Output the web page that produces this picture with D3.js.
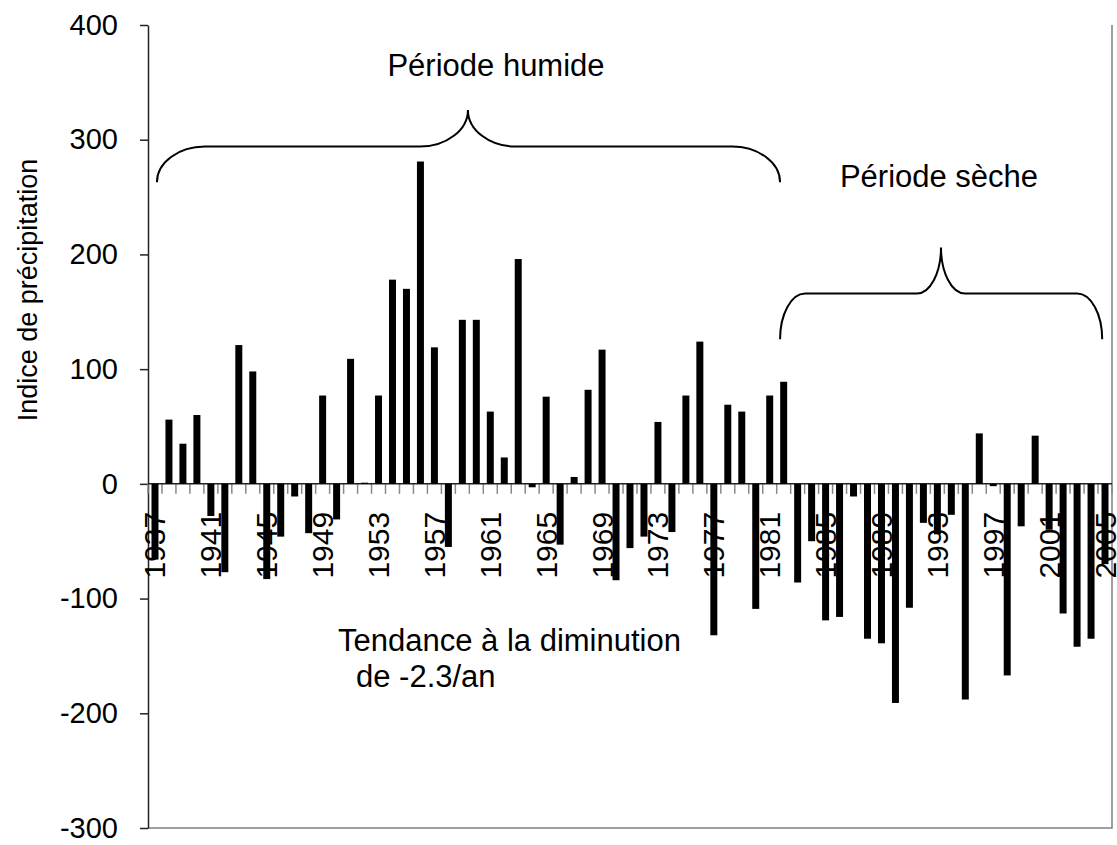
<!DOCTYPE html>
<html>
<head>
<meta charset="utf-8">
<script src="https://cdn.jsdelivr.net/npm/d3@7"></script>
<style>
  body { margin: 0; background: #fff; }
  svg { font-family: Arial, "Liberation Sans", sans-serif; }
</style>
</head>
<body>
<div id="chart"></div>
<script>
/*************************/
/* CONSTANTS AND GLOBALS */
/*************************/
const width = 1117;
const height = 845;
const margin = { top: 25, bottom: 17, left: 148, right: 5 };

/* categories (one bar per year) */
const years = [
  "1937", "1938", "1939", "1940", "1941", "1942", "1943", "1944", "1945", "1946",
  "1947", "1948", "1949", "1950", "1951", "1952", "1953", "1954", "1955", "1956",
  "1957", "1958", "1959", "1960", "1961", "1962", "1963", "1964", "1965", "1966",
  "1967", "1968", "1969", "1970", "1971", "1972", "1973", "1974", "1975", "1976",
  "1977", "1978", "1979", "1980", "1981", "1982", "1983", "1984", "1985", "1986",
  "1987", "1988", "1989", "1990", "1991", "1992", "1993", "1994", "1995", "1996",
  "1997", "1998", "1999", "2000", "2001", "2002", "2003", "2004", "2005"
];

/* indice de précipitation */
const indexValues = [
  -66, 56, 35, 60, -28, -77, 121, 98, -83, -46,
  -11, -43, 77, -31, 109, 1, 77, 178, 170, 281,
  119, -55, 143, 143, 63, 23, 196, -3, 76, -53,
  6, 82, 117, -84, -56, -46, 54, -42, 77, 124,
  -132, 69, 63, -109, 77, 89, -86, -50, -119, -116,
  -11, -135, -139, -191, -108, -34, -44, -27, -188, 44,
  -2, -167, -37, 42, -40, -113, -142, -135, -70
];

/* axis labels */
const yTicks = [-300, -200, -100, 0, 100, 200, 300, 400];
const yearLabels = [
  "1937", "1941", "1945", "1949", "1953", "1957", "1961", "1965", "1969",
  "1973", "1977", "1981", "1985", "1989", "1993", "1997", "2001", "2005"
];

/* texts */
const yTitle = "Indice de précipitation";
const wetLabel = "Période humide";
const dryLabel = "Période sèche";
const trendLines = ["Tendance à la diminution", "de -2.3/an"];

const data = years.map((y, i) => ({ year: y, value: indexValues[i] }));

/****************************/
/* SVG, SCALES AND AXES     */
/****************************/
const svg = d3.select("#chart")
  .append("svg")
  .attr("width", width)
  .attr("height", height);

const xScale = d3.scaleBand()
  .domain(years)
  .range([margin.left, width - margin.right])
  .paddingInner(0.5)
  .paddingOuter(0.25);

const yScale = d3.scaleLinear()
  .domain([-300, 400])
  .range([height - margin.bottom, margin.top]);

const step = xScale.step();
const x0 = margin.left;
const x1 = width - margin.right;
const y0 = yScale(0);

// position along the category axis in "band units" (used for the braces)
const xPos = d3.scaleLinear().domain([0, years.length]).range([x0, x1]);

/* plot area border (right + bottom) */
svg.append("path")
  .attr("d", `M${x0},${yScale(-300)}H${x1}V${margin.top}`)
  .attr("fill", "none")
  .attr("stroke", "#808080")
  .attr("stroke-width", 1.5);

/* y axis */
const yAxis = svg.append("g")
  .attr("transform", `translate(${x0},0)`)
  .call(d3.axisLeft(yScale)
    .tickValues(yTicks)
    .tickFormat(d => String(d))   // plain hyphen, like the original
    .tickSize(8)
    .tickSizeOuter(0)
    .tickPadding(22));

yAxis.select(".domain").attr("stroke", "#222").attr("stroke-width", 1.5);
yAxis.selectAll(".tick line").attr("stroke", "#222").attr("stroke-width", 1.5);
yAxis.selectAll("text")
  .attr("font-size", 29)
  .attr("font-family", "Arial, 'Liberation Sans', sans-serif")
  .attr("fill", "#000");

svg.append("text")
  .attr("transform", `translate(37, 290) rotate(-90)`)
  .attr("text-anchor", "middle")
  .attr("font-size", 27)
  .text(yTitle);

/* x axis: tick marks between categories */
svg.selectAll("line.xtick")
  .data(d3.range(years.length + 1))
  .join("line")
  .attr("class", "xtick")
  .attr("x1", i => x0 + i * step)
  .attr("x2", i => x0 + i * step)
  .attr("y1", y0)
  .attr("y2", y0 + 10)
  .attr("stroke", "#888")
  .attr("stroke-width", 1.5);

/* year labels (drawn before the bars, bars cover them) */
svg.selectAll("text.year")
  .data(yearLabels)
  .join("text")
  .attr("class", "year")
  .attr("transform", d => `translate(${xScale(d) + xScale.bandwidth() / 2}, ${y0 + 28}) rotate(-90)`)
  .attr("text-anchor", "end")
  .attr("dy", "0.35em")
  .attr("font-size", 30)
  .text(d => d);

/* x axis line */
svg.append("line")
  .attr("x1", x0)
  .attr("x2", x1)
  .attr("y1", y0)
  .attr("y2", y0)
  .attr("stroke", "#222")
  .attr("stroke-width", 1.5);

/********/
/* BARS */
/********/
svg.selectAll("rect.bar")
  .data(data)
  .join("rect")
  .attr("class", "bar")
  .attr("x", d => xScale(d.year))
  .attr("width", xScale.bandwidth())
  .attr("y", d => yScale(Math.max(0, d.value)))
  .attr("height", d => Math.abs(yScale(d.value) - y0))
  .attr("fill", "#000");

/***************/
/* ANNOTATIONS */
/***************/
// curly brace: ends at yEnd, flat part at yFlat, tip at yTip
function brace(xa, xb, xm, yEnd, yFlat, yTip, rEnd, rTip) {
  const k = 0.55;
  const p = d3.path();
  p.moveTo(xa, yEnd);
  p.bezierCurveTo(xa, yEnd - k * (yEnd - yFlat), xa + rEnd * (1 - k), yFlat, xa + rEnd, yFlat);
  p.lineTo(xm - rTip, yFlat);
  p.bezierCurveTo(xm - rTip * (1 - k), yFlat, xm, yTip + k * (yFlat - yTip), xm, yTip);
  p.bezierCurveTo(xm, yTip + k * (yFlat - yTip), xm + rTip * (1 - k), yFlat, xm + rTip, yFlat);
  p.lineTo(xb - rEnd, yFlat);
  p.bezierCurveTo(xb - rEnd * (1 - k), yFlat, xb, yEnd - k * (yEnd - yFlat), xb, yEnd);
  return p.toString();
}

svg.append("path")
  .attr("d", brace(xPos(0.64), xPos(45.24), xPos(22.9), yScale(263), yScale(294), yScale(326), 48, 48))
  .attr("fill", "none")
  .attr("stroke", "#000")
  .attr("stroke-width", 2);

svg.append("path")
  .attr("d", brace(xPos(45.24), xPos(68.3), xPos(56.76), yScale(126), yScale(166), yScale(206), 25, 24))
  .attr("fill", "none")
  .attr("stroke", "#000")
  .attr("stroke-width", 2);

svg.append("text")
  .attr("x", 496)
  .attr("y", 76)
  .attr("text-anchor", "middle")
  .attr("font-size", 31)
  .text(wetLabel);

svg.append("text")
  .attr("x", 939)
  .attr("y", 187)
  .attr("text-anchor", "middle")
  .attr("font-size", 31)
  .text(dryLabel);

svg.selectAll("text.trend")
  .data(trendLines)
  .join("text")
  .attr("class", "trend")
  .attr("x", (d, i) => i === 0 ? 338 : 356)
  .attr("y", (d, i) => 651 + i * 36)
  .attr("font-size", 31)
  .text(d => d);
</script>
</body>
</html>
